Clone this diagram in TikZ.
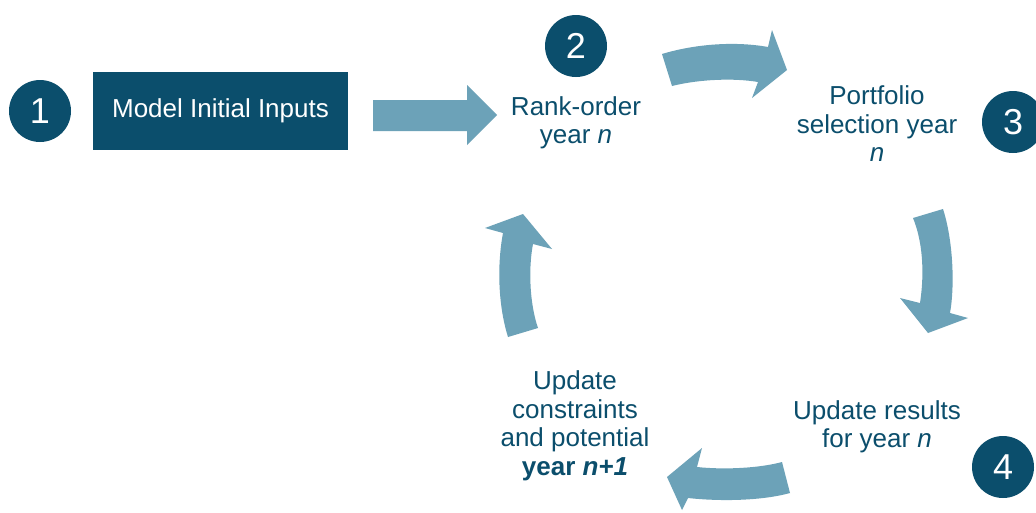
\documentclass[tikz,border=0pt]{standalone}
\usepackage{fontspec}
\setmainfont{Liberation Sans}
\definecolor{deepteal}{RGB}{11,78,108}
\definecolor{flowblue}{RGB}{108,162,184}
\begin{document}
\begin{tikzpicture}[x=1pt,y=-1pt,
  badge/.style={circle, fill=deepteal, text=white, minimum size=62pt, inner sep=0pt,
    font=\fontsize{36}{36}\selectfont},
  steptext/.style={text=deepteal, align=center, inner sep=0pt,
    font=\fontsize{26}{28.5}\selectfont},
  flow/.style={fill=flowblue, draw=none}]
\clip (0,0) rectangle (1036,512);
\fill[white] (0,0) rectangle (1036,512);

% numbered badges
\node[badge] (b1) at (40,111) {1};
\node[badge] (b2) at (576,46) {2};
\node[badge] (b3) at (1013,122) {3};
\node[badge] (b4) at (1003,467) {4};

% input box
\node[fill=deepteal, text=white, minimum width=255pt, minimum height=78pt, inner sep=0pt,
  font=\fontsize{26}{29}\selectfont] (inputs) at (220.5,111) {Model Initial Inputs};

% step labels
\node[steptext] (rank) at (576,123) {Rank-order\\year \textit{n}};
\node[steptext] (select) at (877,124) {Portfolio\\selection year\\\textit{n}};
\node[steptext] (results) at (877,427) {Update results\\for year \textit{n}};
\node[steptext] (update) at (575,426) {Update\\constraints\\and potential\\\textbf{year \textit{n+1}}};

% straight arrow from the inputs to the ranking step
\fill[flow] (373,100) -- (467,100) -- (467,85) -- (497,115) -- (467,145) -- (467,131) -- (373,131) -- cycle;

% curved cycle arrows
\fill[flow] (662,54) .. controls (695,44) and (735,41) .. (768,47) -- (772,30) -- (787,70)
  -- (752,98) -- (758,82) .. controls (735,78) and (700,79) .. (672,86) -- cycle;
\fill[flow] (913,218) -- (943,209) .. controls (953,240) and (955,285) .. (950,313)
  -- (968,318) -- (928,333) -- (900,298) -- (920,303) .. controls (925,270) and (922,240) .. (913,218) -- cycle;
\fill[flow] (782,462) .. controls (760,468) and (725,470) .. (697,467) -- (702,448) -- (667,477)
  -- (682,510) -- (688,498) .. controls (725,502) and (765,500) .. (790,493) -- cycle;
\fill[flow] (508,337) .. controls (498,305) and (497,265) .. (503,233) -- (485,228) -- (523,214)
  -- (552,249) -- (533,244) .. controls (528,270) and (530,305) .. (538,328) -- cycle;
\end{tikzpicture}
\end{document}
